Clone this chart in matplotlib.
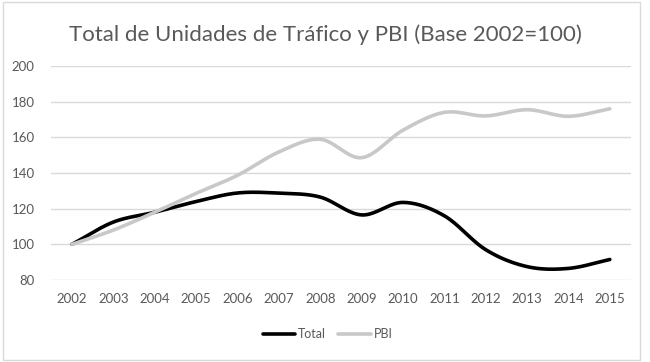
import numpy as np
import matplotlib.pyplot as plt

# datos (base 2002 = 100)
years = [2002, 2003, 2004, 2005, 2006, 2007, 2008, 2009, 2010, 2011, 2012, 2013, 2014, 2015]
total = [100, 112.5, 118, 124, 128.8, 128.7, 126.5, 116.5, 123.5, 116, 97, 87.5, 86.5, 91.5]
pbi = [100, 108, 118, 128.6, 138.7, 151.8, 158.9, 148.6, 164, 174, 172, 175.5, 171.8, 176]

yticks = [80, 100, 120, 140, 160, 180, 200]


def smooth(x, y, n=20):
    # curva suavizada tipo Excel (Catmull-Rom) que pasa por los puntos
    x = np.asarray(x, float)
    y = np.asarray(y, float)
    px = np.concatenate([[2 * x[0] - x[1]], x, [2 * x[-1] - x[-2]]])
    py = np.concatenate([[2 * y[0] - y[1]], y, [2 * y[-1] - y[-2]]])
    xs, ys = [], []
    t = np.linspace(0, 1, n, endpoint=False)
    for i in range(1, len(px) - 2):
        for p, out in ((px, xs), (py, ys)):
            p0, p1, p2, p3 = p[i - 1], p[i], p[i + 1], p[i + 2]
            out.extend(0.5 * ((2 * p1) + (-p0 + p2) * t
                              + (2 * p0 - 5 * p1 + 4 * p2 - p3) * t ** 2
                              + (-p0 + 3 * p1 - 3 * p2 + p3) * t ** 3))
    xs.append(x[-1])
    ys.append(y[-1])
    return xs, ys


plt.rcParams['font.family'] = ['Lato', 'DejaVu Sans']
txt = '#595959'

fig = plt.figure(figsize=(6.5, 3.62), dpi=100)
fig.patches.append(plt.Rectangle((0.005, 0.005), 0.98, 0.99, transform=fig.transFigure,
                                 fill=False, edgecolor='#d9d9d9', lw=1))
ax = fig.add_axes([0.079, 0.2265, 0.891, 0.5912])

ax.plot(*smooth(years, total), color='black', lw=2.6, label='Total', solid_capstyle='round')
ax.plot(*smooth(years, pbi), color='#c8c8c8', lw=2.6, label='PBI', solid_capstyle='round')

ax.set_xlim(2001.5, 2015.5)
ax.set_ylim(80, 200)
ax.set_yticks(yticks)
ax.set_xticks(years)
ax.tick_params(length=0, colors=txt, labelsize=9.5)
ax.tick_params(axis='x', pad=9)
ax.tick_params(axis='y', pad=12)
ax.grid(axis='y', color='#d9d9d9', lw=1)
ax.set_axisbelow(True)
for s in ax.spines.values():
    s.set_visible(False)

fig.text(0.5, 0.905, 'Total de Unidades de Tráfico y PBI (Base 2002=100)',
         ha='center', va='center', fontsize=16, color=txt)
fig.legend(loc='center', bbox_to_anchor=(0.504, 0.077), ncol=2, frameon=False,
           fontsize=9, labelcolor=txt, handlelength=2.6, handletextpad=0.2, columnspacing=1.0)

fig.savefig('out.png', dpi=100)
